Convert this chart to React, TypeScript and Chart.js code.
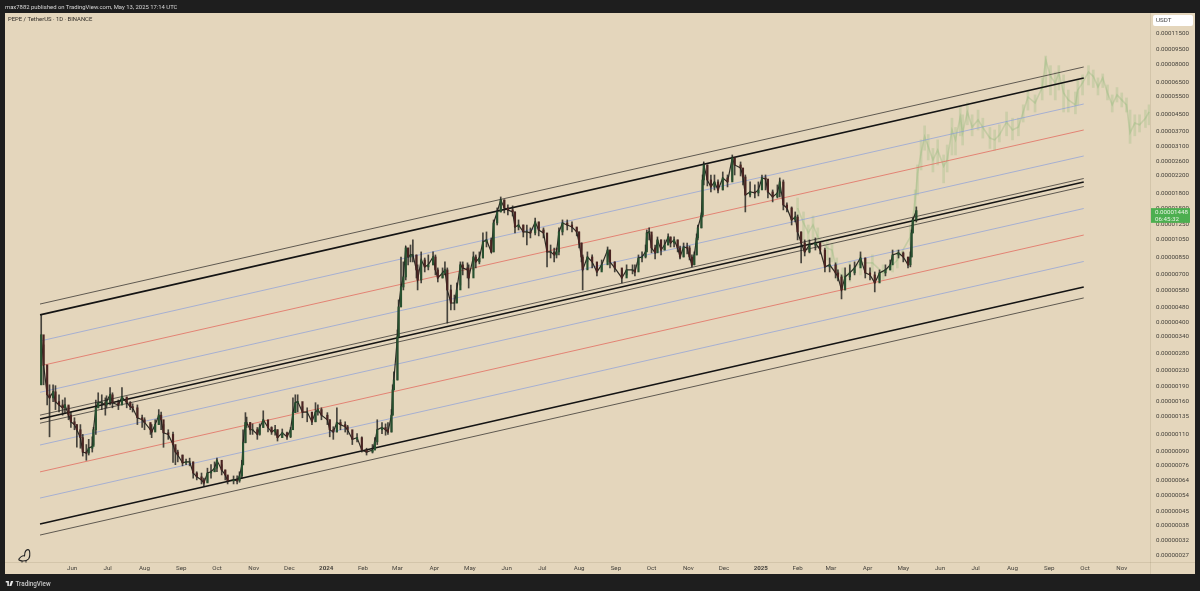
import React, { useEffect, useRef } from "react";
import { Chart, registerables } from "chart.js";

Chart.register(...registerables);

// All prices are in units of 0.00000001 USDT
const PRICE_UNIT_DIGITS = 8;

const priceTicks = [11500, 9500, 8000, 6500, 5500, 4500, 3700, 3100, 2600, 2200, 1800, 1500, 1250, 1050, 850, 700, 580, 480, 400, 340, 280, 230, 190, 160, 135, 110, 90, 76, 64, 54, 45, 38, 32, 27];

// Time axis: days since the first PEPE candle (2023-05-05)
const timeTickDays = [27, 57, 88, 119, 149, 180, 210, 241, 272, 301, 332, 362, 393, 423, 454, 485, 515, 546, 576, 607, 638, 666, 697, 727, 758, 788, 819, 850, 880, 911];
const timeTickLabels = ["Jun", "Jul", "Aug", "Sep", "Oct", "Nov", "Dec", "2024", "Feb", "Mar", "Apr", "May", "Jun", "Jul", "Aug", "Sep", "Oct", "Nov", "Dec", "2025", "Feb", "Mar", "Apr", "May", "Jun", "Jul", "Aug", "Sep", "Oct", "Nov"];

const candleDays = [
  1, 3, 6, 8, 11, 13, 16, 19, 21, 24,
  26, 29, 31, 34, 36, 39, 41, 44, 45, 47,
  49, 52, 55, 56, 59, 61, 66, 69, 73, 76,
  78, 82, 86, 88, 93, 94, 97, 100, 102, 104,
  108, 112, 114, 116, 120, 123, 126, 129, 132, 136,
  138, 141, 144, 147, 149, 153, 156, 158, 163, 166,
  168, 170, 171, 173, 174, 177, 179, 183, 185, 188,
  192, 195, 198, 200, 204, 208, 211, 213, 215, 217,
  221, 225, 229, 232, 234, 237, 242, 244, 247, 250,
  253, 257, 259, 263, 267, 271, 275, 280, 282, 284,
  288, 291, 293, 296, 297, 298, 301, 302, 304, 306,
  308, 310, 312, 314, 317, 318, 321, 324, 327, 331,
  333, 335, 339, 341, 343, 346, 349, 351, 354, 356,
  360, 361, 365, 367, 370, 373, 376, 380, 382, 385,
  388, 391, 394, 398, 400, 403, 407, 410, 413, 417,
  420, 424, 427, 430, 433, 435, 437, 440, 444, 448,
  452, 454, 456, 457, 461, 465, 469, 473, 478, 480,
  484, 490, 494, 499, 501, 504, 507, 510, 511, 513,
  515, 518, 520, 523, 526, 529, 531, 534, 537, 539,
  542, 545, 547, 549, 551, 553, 554, 557,
  558, 559, 562, 565, 568, 571, 575, 579, 583, 585,
  590, 592, 594, 598, 602, 605, 608, 611, 613, 617,
  621, 623, 626, 629, 633, 636, 638, 641, 644, 648,
  653, 657, 661, 665, 670, 672, 675, 678, 682, 686,
  691, 695, 699, 703, 707, 712, 716, 718, 723, 727,
  731, 733, 734, 735, 738,
];
const candleClose = [
  343, 242, 171, 165, 177, 158, 152, 147, 152, 135,
  125, 121, 114, 104, 88, 87, 92, 94, 114, 147,
  156, 156, 152, 158, 171, 156, 152, 167, 156, 149,
  147, 131, 128, 124, 114, 111, 121, 135, 128, 110,
  108, 96, 88, 85, 77.6, 78.5, 78.5, 69, 66, 63.7,
  61.5, 69, 70, 73, 80, 71.5, 67.5, 63, 63.7, 63,
  66.7, 75.8, 98, 124, 124, 114, 114, 108, 117, 128,
  117, 111, 114, 104, 110, 105, 114, 139, 156, 158,
  140, 140, 125, 140, 144, 135, 128, 114, 111, 124,
  121, 118, 114, 102, 104, 90, 88, 90, 99, 114,
  117, 114, 111, 135, 181, 203, 335, 474, 597, 671,
  939, 846, 866, 866, 728, 648, 817, 754, 772, 846,
  728, 663, 703, 728, 577, 496, 496, 577, 772, 745,
  728, 663, 846, 799, 836, 1007, 1031, 897, 1255, 1426,
  1640, 1494, 1460, 1426, 1198, 1226, 1131, 1131, 1118, 1270,
  1157, 1118, 897, 897, 866, 897, 1131, 1255, 1226, 1198,
  1131, 995, 846, 728, 846, 799, 711, 772, 917, 799,
  745, 663, 728, 728, 711, 836, 846, 897, 1118, 1131,
  939, 887, 1031, 917, 972, 1067, 995, 1031, 939, 846,
  950, 939, 846, 772, 866, 1055, 1185, 1377,
  2067, 2460, 2067, 1906, 2020, 1841, 2115, 2020, 2670, 2460,
  2376, 2140, 1737, 1799, 1778, 1841, 2115, 2090, 1799, 1697,
  1778, 2020, 1547, 1494, 1300, 1345, 1131, 995, 897, 972,
  995, 917, 754, 772, 703, 671, 577, 671, 703, 745,
  836, 703, 687, 626, 703, 728, 772, 866, 887, 846,
  772, 846, 1118, 1300, 1448,
];
const candleHigh = [
  432, 305, 208, 192, 192, 190, 171, 161, 165, 149,
  140, 131, 121, 121, 108, 96, 102, 105, 117, 161,
  175, 171, 165, 169, 186, 175, 161, 186, 165, 158,
  154, 152, 135, 131, 122, 121, 128, 144, 140, 121,
  114, 111, 92, 90, 85, 81, 82, 78.5, 70, 69,
  65, 73, 76, 78.5, 82, 76, 71.5, 66.7, 66.7, 66.7,
  70, 80, 114, 139, 132, 124, 122, 117, 122, 142,
  125, 118, 120, 114, 115, 111, 117, 165, 171, 171,
  149, 147, 132, 156, 152, 147, 139, 128, 118, 147,
  128, 125, 120, 105, 109, 105, 92, 96, 104, 128,
  124, 122, 124, 144, 192, 223, 363, 514, 846, 799,
  960, 939, 972, 1031, 866, 772, 897, 836, 866, 897,
  866, 745, 745, 799, 745, 611, 544, 626, 799, 799,
  790, 772, 897, 866, 897, 1118, 1131, 1055, 1300, 1494,
  1697, 1640, 1547, 1530, 1426, 1300, 1226, 1226, 1185, 1330,
  1270, 1185, 1092, 972, 939, 939, 1185, 1300, 1300, 1270,
  1185, 1131, 995, 866, 897, 866, 772, 817, 950, 917,
  799, 728, 772, 772, 772, 866, 897, 972, 1157, 1185,
  1092, 972, 1067, 1031, 1031, 1105, 1067, 1067, 1031, 961,
  995, 995, 961, 866, 897, 1105, 1226, 1410,
  2190, 2547, 2460, 2190, 2190, 2067, 2268, 2190, 2762, 2670,
  2547, 2322, 2190, 2020, 1951, 2020, 2190, 2190, 2067, 1841,
  1951, 2115, 2067, 1585, 1512, 1426, 1377, 1131, 1031, 1031,
  1055, 1007, 939, 836, 790, 728, 687, 745, 772, 799,
  897, 836, 745, 711, 728, 772, 817, 917, 917, 897,
  836, 897, 1157, 1330, 1512,
];
const candleLow = [
  192, 192, 152, 105, 158, 144, 140, 135, 139, 128,
  117, 114, 93, 92, 84, 80, 85, 88, 96, 108,
  147, 144, 135, 147, 152, 147, 144, 152, 147, 144,
  140, 121, 117, 114, 108, 104, 114, 121, 114, 93,
  102, 78, 76, 78.5, 75, 76, 75, 65, 63.7, 60.8,
  59.4, 62, 65, 70, 70, 67.5, 63.7, 60.8, 60.8, 60.8,
  62, 65, 76, 98, 117, 108, 108, 102, 107, 117,
  111, 108, 107, 100, 104, 102, 104, 114, 139, 140,
  131, 125, 121, 125, 135, 128, 121, 105, 102, 111,
  114, 111, 108, 96, 99, 88, 85, 87, 93, 96,
  109, 107, 108, 111, 135, 181, 203, 335, 474, 577,
  648, 772, 799, 799, 663, 577, 626, 711, 728, 772,
  687, 633, 663, 687, 393, 458, 458, 496, 611, 687,
  663, 590, 728, 745, 781, 836, 950, 887, 897, 1226,
  1426, 1410, 1377, 1360, 1118, 1157, 1067, 972, 1055, 1092,
  1080, 1055, 754, 836, 799, 836, 866, 1092, 1157, 1131,
  1080, 939, 799, 577, 799, 745, 679, 728, 799, 745,
  711, 626, 687, 695, 679, 772, 799, 836, 917, 1031,
  887, 826, 897, 866, 917, 972, 950, 950, 897, 826,
  846, 877, 817, 754, 772, 866, 1031, 1185,
  1345, 1951, 1928, 1799, 1841, 1778, 1841, 1906, 2067, 2190,
  2165, 1951, 1426, 1697, 1677, 1717, 1885, 1841, 1677, 1602,
  1677, 1697, 1460, 1426, 1226, 1270, 1031, 790, 856, 887,
  917, 877, 711, 711, 663, 640, 520, 577, 648, 687,
  772, 663, 648, 564, 648, 679, 728, 817, 836, 799,
  745, 754, 846, 1118, 1270,
];

// Pale green projected path (bars pattern)
const ghostDays = [
  638, 643, 647, 651, 655, 663, 667, 671, 676, 682,
  691, 701, 710, 718, 722, 733, 737, 739, 742, 745,
  748, 752, 756, 761, 764, 768, 771, 775, 777, 781,
  785, 790, 794, 800, 804, 808, 814, 819, 824, 828,
  832, 838, 844, 847, 851, 855, 858, 862, 866, 872,
  874, 878, 883, 887, 891, 895, 899, 903, 907, 911,
  915, 918, 922, 926, 931, 934,
];
const ghostClose = [
  1494, 1255, 1118, 1226, 1067, 939, 917, 728, 671, 711,
  790, 790, 703, 772, 817, 1067, 1640, 2230, 2825, 3420,
  3045, 2607, 2920, 2420, 2607, 3690, 3290, 4290, 3570, 4548,
  3820, 4150, 3800, 3360, 3290, 3490, 4050, 3690, 3820, 4548,
  5410, 5050, 6040, 8310, 6880, 6370, 7150, 5670, 5230, 4940,
  5870, 6370, 7232, 6880, 6080, 6750, 5670, 4940, 5540, 5230,
  4940, 3570, 4000, 3920, 4230, 4548,
];
const ghostHigh = [
  1677, 1426, 1226, 1360, 1185, 1031, 995, 836, 745, 799,
  866, 866, 772, 836, 917, 1226, 1841, 2460, 3290, 3870,
  3500, 2980, 3290, 2762, 3100, 4230, 3800, 4820, 4400, 5050,
  4400, 4650, 4230, 3800, 3690, 3920, 4548, 4230, 4230, 4940,
  5870, 5540, 6750, 8700, 7780, 7232, 7780, 6990, 5870, 5735,
  6590, 6990, 7780, 7400, 6750, 7070, 6220, 5540, 6040, 5670,
  5350, 4650, 4400, 4400, 4650, 4940,
];
const ghostLow = [
  1270, 1031, 972, 1031, 939, 817, 799, 648, 577, 633,
  687, 711, 648, 711, 745, 972, 1226, 1737, 2322, 2920,
  2607, 2268, 2460, 1999, 2268, 2762, 2762, 3450, 3100, 3920,
  3450, 3690, 3360, 2980, 2920, 3212, 3450, 3290, 3450, 4050,
  4650, 4548, 5230, 6040, 5540, 5230, 5870, 4548, 4548, 4450,
  4940, 5540, 6220, 6040, 5540, 6040, 5230, 4548, 5107, 4820,
  4548, 3160, 3450, 3607, 3800, 3920,
];

// Channel lines: price at the left end and at the right end
const channelDays = [0, 879];
const thinTop = [490, 7663];
const thickTop = [432, 6744];
const blueA = [319, 4989];
const redA = [239, 3690];
const blueB = [176, 2729];
const midThinUpper = [135, 2102];
const midThick = [129, 2018];
const midThinLower = [123, 1916];
const blueC = [95.5, 1484];
const redB = [69.9, 1091];
const blueD = [51.6, 803];
const thickBottom = [38.2, 597];
const thinBottom = [33.6, 526];

const lastPrice = 1448;
const lastPriceLabel = "0.00001448";
const countdownLabel = "06:45:32";
const quoteLabel = "USDT";
const symbolLabel = "PEPE / TetherUS · 1D · BINANCE";
const publishedLabel = "max7882 published on TradingView.com, May 13, 2025 17:14 UTC";
const footerLabel = "TradingView";

const FONT = "Roboto, 'Liberation Sans', sans-serif";
const BEIGE = "#e4d6bc";
const DARK = "#1e1e1e";

const BLACK_LINE = "#141414";
const THIN_LINE = "#4f4b44";
const BLUE_LINE = "rgba(128,152,222,0.62)";
const RED_LINE = "rgba(226,98,88,0.72)";

function channel(label: string, prices: number[], color: string, width: number) {
  return {
    type: "line" as const,
    label,
    data: channelDays.map((d, i) => ({ x: d, y: prices[i] })),
    borderColor: color,
    borderWidth: width,
    pointRadius: 0,
    fill: false,
    tension: 0,
    order: 5,
  };
}

const panelPlugin = {
  id: "panel",
  beforeDraw(chart: any) {
    const { ctx, chartArea } = chart;
    ctx.save();
    ctx.fillStyle = BEIGE;
    ctx.fillRect(5, 13, 1190, 561);
    ctx.fillStyle = "rgba(90,70,40,0.12)";
    ctx.fillRect(chartArea.right, 13, 1, 561);
    ctx.fillRect(5, chartArea.bottom, 1190, 1);
    ctx.restore();
  },
  afterDraw(chart: any) {
    const { ctx, scales } = chart;
    const y = scales.y.getPixelForValue(lastPrice);
    ctx.save();
    // last price tag
    ctx.fillStyle = "#4caf50";
    ctx.fillRect(1151, y - 2.5, 39, 14.7);
    ctx.fillStyle = "#e8f3e2";
    ctx.font = `6.2px ${FONT}`;
    ctx.textBaseline = "middle";
    ctx.textAlign = "left";
    ctx.fillText(lastPriceLabel, 1155, y + 1.5);
    ctx.fillText(countdownLabel, 1155, y + 8.5);
    // currency box
    ctx.fillStyle = "#ffffff";
    ctx.beginPath();
    ctx.roundRect(1153, 15, 40, 11, 2);
    ctx.fill();
    ctx.fillStyle = "#444444";
    ctx.fillText(quoteLabel, 1156, 20.5);
    // symbol line
    ctx.fillStyle = "#2f2b26";
    ctx.font = `5.9px ${FONT}`;
    ctx.fillText(symbolLabel, 8, 19.7);
    // dino mark
    ctx.strokeStyle = "#222222";
    ctx.lineWidth = 1.1;
    ctx.lineJoin = "round";
    ctx.beginPath();
    ctx.moveTo(18.5, 559.5);
    ctx.quadraticCurveTo(22, 555, 24.5, 556);
    ctx.quadraticCurveTo(24.5, 552, 26, 550.5);
    ctx.quadraticCurveTo(28.5, 548.5, 29.5, 551);
    ctx.quadraticCurveTo(30.5, 556, 28.5, 559);
    ctx.quadraticCurveTo(27, 561, 23, 561);
    ctx.quadraticCurveTo(20, 561, 18.5, 559.5);
    ctx.moveTo(22, 561);
    ctx.lineTo(22, 562.5);
    ctx.moveTo(26, 560.5);
    ctx.lineTo(26, 562.5);
    ctx.stroke();
    ctx.restore();
  },
};

export default function App() {
  const ref = useRef<HTMLCanvasElement>(null);
  useEffect(() => {
    if (!ref.current) return;
    const points = (days: number[], values: number[]) =>
      days.map((d, i) => ({ x: d, y: values[i] }));
    const ranges = (days: number[], lows: number[], highs: number[]) =>
      days.map((d, i) => ({ x: d, y: [lows[i], highs[i]] }));
    const opens = candleClose.map((_, i) => (i === 0 ? candleLow[0] : candleClose[i - 1]));

    const chart = new Chart(ref.current, {
      type: "bar",
      data: {
        datasets: [
          {
            type: "bar",
            label: "Projection range",
            data: ranges(ghostDays, ghostLow, ghostHigh),
            backgroundColor: "rgba(128,178,108,0.24)",
            barThickness: 2,
            grouped: false,
            order: 8,
          },
          {
            type: "line",
            label: "Projection",
            data: points(ghostDays, ghostClose),
            borderColor: "rgba(128,178,108,0.3)",
            borderWidth: 1.6,
            pointRadius: 0,
            tension: 0,
            order: 7,
          },
          channel("Thin top", thinTop, THIN_LINE, 0.9),
          channel("Thick top", thickTop, BLACK_LINE, 1.6),
          channel("Blue A", blueA, BLUE_LINE, 1),
          channel("Red A", redA, RED_LINE, 1),
          channel("Blue B", blueB, BLUE_LINE, 1),
          channel("Mid upper", midThinUpper, THIN_LINE, 0.9),
          channel("Mid", midThick, BLACK_LINE, 1.6),
          channel("Mid lower", midThinLower, THIN_LINE, 0.9),
          channel("Blue C", blueC, BLUE_LINE, 1),
          channel("Red B", redB, RED_LINE, 1),
          channel("Blue D", blueD, BLUE_LINE, 1),
          channel("Thick bottom", thickBottom, BLACK_LINE, 1.6),
          channel("Thin bottom", thinBottom, THIN_LINE, 0.9),
          {
            type: "line",
            label: "Close path",
            data: points(candleDays, candleClose),
            borderColor: "rgba(24,24,20,0.9)",
            borderWidth: 1.2,
            pointRadius: 0,
            tension: 0,
            order: 4,
          },
          {
            type: "bar",
            label: "Wicks",
            data: ranges(candleDays, candleLow, candleHigh),
            backgroundColor: "rgba(30,30,28,0.8)",
            barThickness: 1,
            grouped: false,
            order: 3,
          },
          {
            type: "bar",
            label: "Bodies",
            data: candleDays.map((d, i) => ({ x: d, y: [opens[i], candleClose[i]] })),
            backgroundColor: candleClose.map((c, i) => (c >= opens[i] ? "#27502f" : "#4a2422")),
            barThickness: 1.5,
            grouped: false,
            order: 2,
          },
        ] as any,
      },
      options: {
        responsive: false,
        animation: false,
        devicePixelRatio: 1,
        events: [],
        layout: { padding: { left: 5, top: 13, right: 5, bottom: 17 } },
        plugins: { legend: { display: false }, tooltip: { enabled: false }, title: { display: false } },
        scales: {
          x: {
            type: "linear",
            offset: false,
            min: -29.5,
            max: 934.8,
            grid: { display: false, drawTicks: false, tickLength: 0 },
            border: { display: false },
            afterBuildTicks(axis: any) {
              axis.ticks = timeTickDays.map((value) => ({ value }));
            },
            afterFit(axis: any) {
              axis.height = 12;
            },
            ticks: {
              autoSkip: false,
              maxRotation: 0,
              padding: 3,
              color: "#45423c",
              font: (ctx: any) => {
                const label = timeTickLabels[timeTickDays.indexOf(ctx.tick?.value)];
                return { family: FONT, size: 6.2, weight: /^\d/.test(label ?? "") ? "bold" : "normal" };
              },
              callback: (v: any) => timeTickLabels[timeTickDays.indexOf(Number(v))] ?? "",
            },
          },
          y: {
            type: "logarithmic",
            position: "right",
            min: 24.58,
            max: 14336,
            grid: { display: false, drawTicks: false, tickLength: 0 },
            border: { display: false },
            afterBuildTicks(axis: any) {
              axis.ticks = priceTicks.map((value) => ({ value }));
            },
            afterFit(axis: any) {
              axis.width = 45;
            },
            ticks: {
              autoSkip: false,
              padding: 6,
              labelOffset: 1.2,
              color: "#45423c",
              font: { family: FONT, size: 6.2 },
              callback: (v: any) => (Number(v) / 10 ** PRICE_UNIT_DIGITS).toFixed(PRICE_UNIT_DIGITS),
            },
          },
        },
      } as any,
      plugins: [panelPlugin],
    } as any);
    return () => chart.destroy();
  }, []);

  return (
    <div style={{ position: "fixed", inset: 0, background: DARK, overflow: "hidden" }}>
      <canvas ref={ref} width={1200} height={591} style={{ display: "block", position: "absolute", left: 0, top: 0 }} />
      <div style={{ position: "absolute", left: 5, top: 3.5, font: `5.9px ${FONT}`, color: "#d8d8d8", whiteSpace: "nowrap" }}>
        {publishedLabel}
      </div>
      <svg width="9" height="5" viewBox="0 0 18 12" style={{ position: "absolute", left: 4.5, top: 581 }}>
        <path d="M0 0h7.5v12H3.8V3.8H0z M9 0a2 2 0 1 1 0.01 0z M12.5 0H18l-4.5 12H8.5z" fill="#e8e8e8" />
      </svg>
      <div style={{ position: "absolute", left: 15.5, top: 579.5, font: `500 6.3px ${FONT}`, color: "#c9c9c9", whiteSpace: "nowrap" }}>
        {footerLabel}
      </div>
    </div>
  );
}
